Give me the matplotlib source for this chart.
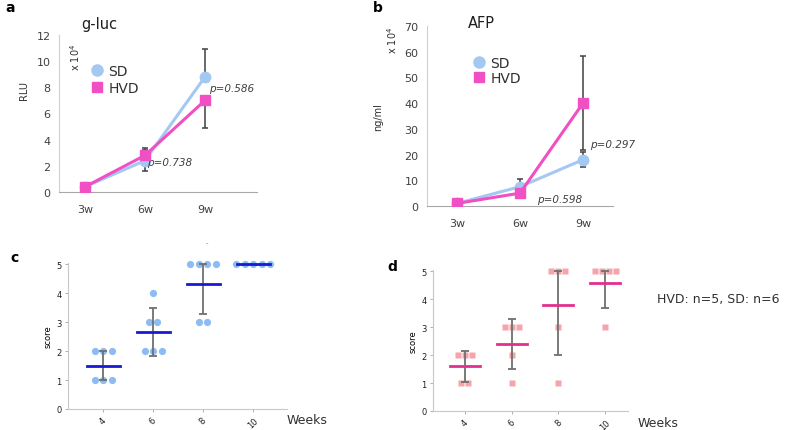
import numpy as np
import matplotlib
matplotlib.use("Agg")
import matplotlib.pyplot as plt
from matplotlib.lines import Line2D

# ---------------- data ----------------
time_labels = ["3w", "6w", "9w"]

# panel a: g-luc (RLU x 10^4)
gluc_sd = [0.4, 2.4, 8.8]
gluc_hvd = [0.4, 2.8, 7.0]
gluc_sd_err_lo = [0.0, 0.8, 0.0]
gluc_sd_err_hi = [0.0, 0.8, 2.1]
gluc_hvd_err_lo = [0.0, 0.6, 2.1]
gluc_hvd_err_hi = [0.0, 0.6, 0.0]

# panel b: AFP (ng/ml x 10^4)
afp_sd = [1.0, 7.5, 18.0]
afp_hvd = [1.0, 5.0, 40.0]
afp_sd_err = [0.0, 3.0, 2.9]
afp_hvd_err = [0.0, 0.0, 18.3]

# panels c/d: scores per week
weeks = ["4", "6", "8", "10"]
sd_scores = [[2, 2, 2, 1, 1, 1],
             [4, 3, 3, 2, 2, 2],
             [5, 5, 5, 5, 3, 3],
             [5, 5, 5, 5, 5]]
sd_err_lo = [1.0, 1.85, 3.3, None]
sd_err_hi = [2.0, 3.48, 5.0, None]

hvd_scores = [[2, 2, 2, 1, 1],
              [3, 3, 3, 2, 1],
              [5, 5, 5, 3, 1],
              [5, 5, 5, 5, 3]]
hvd_err_lo = [1.05, 1.5, 2.02, 3.7]
hvd_err_hi = [2.15, 3.3, 5.0, 5.0]

# ---------------- styles ----------------
W, H = 785, 431
c_sd = "#a3c8f2"
c_hvd = "#f050c4"
c_err = "#404040"
c_tick = "#404040"

plt.rcParams['font.family'] = ['DejaVu Sans']

fig = plt.figure(figsize=(W / 100, H / 100), dpi=100)


def px(x, y):
    return x / W, 1 - y / H


def ax_px(left, top, right, bottom):
    return fig.add_axes([left / W, 1 - bottom / H, (right - left) / W, (bottom - top) / H])


def line_panel(ax, sd, hvd, sd_err, hvd_err, xlim, ylim, yticks):
    x = np.arange(len(time_labels))
    ax.plot(x, sd, color=c_sd, lw=2.2, marker='o', ms=7.5, zorder=3)
    ax.plot(x, hvd, color=c_hvd, lw=2.2, marker='s', ms=7, zorder=4)
    ax.errorbar(x, sd, yerr=sd_err, fmt='none', ecolor=c_err, elinewidth=1.1,
                capsize=2.5, capthick=1.1, zorder=2)
    ax.errorbar(x, hvd, yerr=hvd_err, fmt='none', ecolor=c_err, elinewidth=1.1,
                capsize=2.5, capthick=1.1, zorder=2)
    ax.set_xlim(*xlim)
    ax.set_ylim(*ylim)
    ax.set_yticks(yticks)
    ax.set_xticks(x)
    ax.set_xticklabels(time_labels)
    for s in ['top', 'right']:
        ax.spines[s].set_visible(False)
    ax.spines['left'].set_color('#d0d0d0')
    ax.spines['bottom'].set_color('#a8a8a8')
    ax.tick_params(length=0, labelsize=8, colors=c_tick, pad=6)
    ax.tick_params(axis='x', pad=9)
    ax.set_facecolor('none')
    handles = [Line2D([], [], color=c_sd, marker='o', ls='', ms=8),
               Line2D([], [], color=c_hvd, marker='s', ls='', ms=6.5)]
    return handles


# ---- panel a ----
ax_a = ax_px(59, 36, 257, 193)
h = line_panel(ax_a, gluc_sd, gluc_hvd,
               [gluc_sd_err_lo, gluc_sd_err_hi], [gluc_hvd_err_lo, gluc_hvd_err_hi],
               (-0.433, 2.867), (0, 12), np.arange(0, 13, 2))
ax_a.legend(h, ["SD", "HVD"], loc='upper left', bbox_to_anchor=px(86, 58),
            bbox_transform=fig.transFigure, frameon=False, fontsize=10,
            handlelength=0.6, handletextpad=0.5, labelspacing=0.2, borderpad=0,
            labelcolor='#303030')
ax_a.text(1.03, 2.3, "p=0.738", style='italic', fontsize=7.5, color='#404040', va='center')
ax_a.text(2.07, 7.95, "p=0.586", style='italic', fontsize=7.5, color='#404040', va='center')
fig.text(*px(99, 25), "g-luc", fontsize=10.5, ha='center', va='center', color='#202020')
fig.text(*px(75, 57), r"x 10$^4$", fontsize=7, rotation=90, ha='center', va='center', color='#303030')
fig.text(*px(24, 90), "RLU", fontsize=7, rotation=90, ha='center', va='center', color='#303030')
fig.text(*px(5, 8), "a", fontsize=10, fontweight='bold', ha='left', va='center')

# ---- panel b ----
ax_b = ax_px(427, 27, 613, 207)
h = line_panel(ax_b, afp_sd, afp_hvd, afp_sd_err, afp_hvd_err,
               (-0.476, 2.476), (0, 70), np.arange(0, 71, 10))
ax_b.legend(h, ["SD", "HVD"], loc='upper left', bbox_to_anchor=px(468, 50),
            bbox_transform=fig.transFigure, frameon=False, fontsize=10,
            handlelength=0.6, handletextpad=0.5, labelspacing=0.1, borderpad=0,
            labelcolor='#303030')
ax_b.text(2.11, 24.1, "p=0.297", style='italic', fontsize=7.5, color='#404040', va='center')
ax_b.text(1.27, 2.7, "p=0.598", style='italic', fontsize=7.5, color='#404040', va='center')
fig.text(*px(481, 23), "AFP", fontsize=10.5, ha='center', va='center', color='#202020')
fig.text(*px(392, 40), r"x 10$^4$", fontsize=7, rotation=90, ha='center', va='center', color='#303030')
fig.text(*px(378, 117), "ng/ml", fontsize=7, rotation=90, ha='center', va='center', color='#303030')
fig.text(*px(373, 8), "b", fontsize=10, fontweight='bold', ha='left', va='center')


# ---------------- dot plots ----------------
def dot_panel(ax, scores, lo, hi, dot_color, dot_marker, dot_ms, spacing,
              mean_color, half_w, xlim):
    for i, vals in enumerate(scores):
        vals = np.array(vals)
        for v in np.unique(vals):
            n = np.sum(vals == v)
            offs = (np.arange(n) - (n - 1) / 2) * spacing
            ax.plot(i + offs, [v] * n, ls='', marker=dot_marker, ms=dot_ms,
                    color=dot_color, mec='none', zorder=2, clip_on=False)
        if lo[i] is not None:
            ax.errorbar([i], [(lo[i] + hi[i]) / 2], yerr=[[(hi[i] - lo[i]) / 2]],
                        fmt='none', ecolor='#707070', elinewidth=1.3,
                        capsize=3, capthick=1.3, zorder=3)
        m = vals.mean()
        ax.plot([i - half_w, i + half_w], [m, m], color=mean_color, lw=2, zorder=4)
    ax.set_xlim(*xlim)
    ax.set_ylim(0, 5.05)
    ax.set_yticks(range(6))
    ax.set_xticks(range(len(weeks)))
    ax.set_xticklabels(weeks, rotation=45, ha='center')
    for s in ['top', 'right']:
        ax.spines[s].set_visible(False)
    for s in ['left', 'bottom']:
        ax.spines[s].set_color('#c8c8c8')
    ax.tick_params(length=2.5, width=0.6, color='#a0a0a0', labelsize=6, labelcolor='#202020', pad=2)
    ax.tick_params(axis='x', pad=2)
    ax.set_ylabel("score", fontsize=6, labelpad=3)
    ax.set_facecolor('none')


ax_c = ax_px(68, 264, 287, 410)
dot_panel(ax_c, sd_scores, sd_err_lo, sd_err_hi, "#8cbcf2", 'o', 5.2, 0.17,
          "#1818d8", 0.33, (-0.7, 3.68))
fig.text(*px(287, 421), "Weeks", fontsize=9, ha='left', va='center', color='#303030')
fig.text(*px(10, 258), "c", fontsize=10, fontweight='bold', ha='left', va='center')
fig.text(*px(207, 243), "-", fontsize=5, ha='center', va='center', color='#808080')

ax_d = ax_px(433, 271, 628, 412)
dot_panel(ax_d, hvd_scores, hvd_err_lo, hvd_err_hi, "#f4a4aa", 's', 4, 0.15,
          "#e2308c", 0.32, (-0.685, 3.49))
fig.text(*px(638, 424), "Weeks", fontsize=9, ha='left', va='center', color='#303030')
fig.text(*px(657, 300), "HVD: n=5, SD: n=6", fontsize=9, ha='left', va='center', color='#303030')
fig.text(*px(387, 267), "d", fontsize=10, fontweight='bold', ha='left', va='center')

fig.savefig("out.png", dpi=100)
